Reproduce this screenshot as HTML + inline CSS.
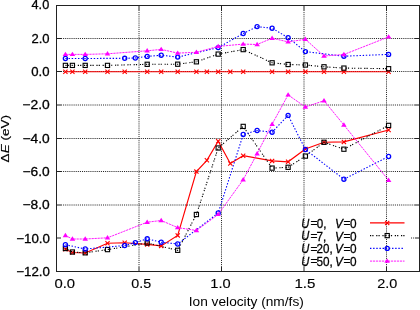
<!DOCTYPE html>
<html><head><meta charset="utf-8"><style>html,body{margin:0;padding:0;background:#fff;overflow:hidden}svg{display:block;will-change:transform}</style></head>
<body><svg width="420" height="310" viewBox="0 0 420 310"><rect width="420" height="310" fill="#fff"/><g stroke="#000" stroke-width="1" stroke-dasharray="1.05 1.05" opacity="0.85"><line x1="61" y1="38.50" x2="415" y2="38.50"/><line x1="61" y1="71.50" x2="415" y2="71.50"/><line x1="61" y1="105.00" x2="415" y2="105.00"/><line x1="61" y1="138.50" x2="415" y2="138.50"/><line x1="61" y1="171.50" x2="415" y2="171.50"/><line x1="61" y1="205.00" x2="415" y2="205.00"/><line x1="411" y1="238" x2="415" y2="238"/><line x1="139.00" y1="10" x2="139.00" y2="267"/><line x1="221.50" y1="10" x2="221.50" y2="267"/><line x1="304.00" y1="10" x2="304.00" y2="267"/><line x1="386.50" y1="10" x2="386.50" y2="267"/></g><g stroke="#222" stroke-width="1"><line x1="56" y1="38.50" x2="61" y2="38.50"/><line x1="415" y1="38.50" x2="419" y2="38.50"/><line x1="56" y1="71.50" x2="61" y2="71.50"/><line x1="415" y1="71.50" x2="419" y2="71.50"/><line x1="56" y1="105.00" x2="61" y2="105.00"/><line x1="415" y1="105.00" x2="419" y2="105.00"/><line x1="56" y1="138.50" x2="61" y2="138.50"/><line x1="415" y1="138.50" x2="419" y2="138.50"/><line x1="56" y1="171.50" x2="61" y2="171.50"/><line x1="415" y1="171.50" x2="419" y2="171.50"/><line x1="56" y1="205.00" x2="61" y2="205.00"/><line x1="415" y1="205.00" x2="419" y2="205.00"/><line x1="56" y1="238.00" x2="61" y2="238.00"/><line x1="415" y1="238.00" x2="419" y2="238.00"/><line x1="139.00" y1="271" x2="139.00" y2="267"/><line x1="139.00" y1="5" x2="139.00" y2="10"/><line x1="221.50" y1="271" x2="221.50" y2="267"/><line x1="221.50" y1="5" x2="221.50" y2="10"/><line x1="304.00" y1="271" x2="304.00" y2="267"/><line x1="304.00" y1="5" x2="304.00" y2="10"/><line x1="386.50" y1="271" x2="386.50" y2="267"/><line x1="386.50" y1="5" x2="386.50" y2="10"/></g><polyline points="65.4,71.7 72.4,71.7 85.2,71.7 107.5,71.7 124.7,71.7 147.2,71.7 161.2,71.7 177.7,71.7 196.4,71.7 206.9,71.7 218.2,71.7 230.3,71.7 243.2,71.7 272.1,71.7 288.1,71.7 305.4,71.7 324.0,71.7 343.9,71.7 388.6,71.7" fill="none" stroke="#ff0000" stroke-width="1.15"/><path d="M63.3,69.6L67.5,73.8M63.3,73.8L67.5,69.6" stroke="#ff0000" stroke-width="1.1" fill="none"/><path d="M70.3,69.6L74.5,73.8M70.3,73.8L74.5,69.6" stroke="#ff0000" stroke-width="1.1" fill="none"/><path d="M83.1,69.6L87.3,73.8M83.1,73.8L87.3,69.6" stroke="#ff0000" stroke-width="1.1" fill="none"/><path d="M105.4,69.6L109.6,73.8M105.4,73.8L109.6,69.6" stroke="#ff0000" stroke-width="1.1" fill="none"/><path d="M122.6,69.6L126.8,73.8M122.6,73.8L126.8,69.6" stroke="#ff0000" stroke-width="1.1" fill="none"/><path d="M145.1,69.6L149.3,73.8M145.1,73.8L149.3,69.6" stroke="#ff0000" stroke-width="1.1" fill="none"/><path d="M159.1,69.6L163.3,73.8M159.1,73.8L163.3,69.6" stroke="#ff0000" stroke-width="1.1" fill="none"/><path d="M175.6,69.6L179.8,73.8M175.6,73.8L179.8,69.6" stroke="#ff0000" stroke-width="1.1" fill="none"/><path d="M194.3,69.6L198.5,73.8M194.3,73.8L198.5,69.6" stroke="#ff0000" stroke-width="1.1" fill="none"/><path d="M204.8,69.6L209.0,73.8M204.8,73.8L209.0,69.6" stroke="#ff0000" stroke-width="1.1" fill="none"/><path d="M216.1,69.6L220.3,73.8M216.1,73.8L220.3,69.6" stroke="#ff0000" stroke-width="1.1" fill="none"/><path d="M228.2,69.6L232.4,73.8M228.2,73.8L232.4,69.6" stroke="#ff0000" stroke-width="1.1" fill="none"/><path d="M241.1,69.6L245.3,73.8M241.1,73.8L245.3,69.6" stroke="#ff0000" stroke-width="1.1" fill="none"/><path d="M270.0,69.6L274.2,73.8M270.0,73.8L274.2,69.6" stroke="#ff0000" stroke-width="1.1" fill="none"/><path d="M286.0,69.6L290.2,73.8M286.0,73.8L290.2,69.6" stroke="#ff0000" stroke-width="1.1" fill="none"/><path d="M303.3,69.6L307.5,73.8M303.3,73.8L307.5,69.6" stroke="#ff0000" stroke-width="1.1" fill="none"/><path d="M321.9,69.6L326.1,73.8M321.9,73.8L326.1,69.6" stroke="#ff0000" stroke-width="1.1" fill="none"/><path d="M341.8,69.6L346.0,73.8M341.8,73.8L346.0,69.6" stroke="#ff0000" stroke-width="1.1" fill="none"/><path d="M386.5,69.6L390.7,73.8M386.5,73.8L390.7,69.6" stroke="#ff0000" stroke-width="1.1" fill="none"/><polyline points="65.4,249.3 72.4,252.5 85.2,253.0 107.5,243.2 124.7,242.8 147.2,244.4 161.2,245.9 177.7,235.4 196.4,171.6 206.9,160.3 218.2,141.2 230.3,163.5 243.2,155.7 272.1,160.9 288.1,161.8 305.4,149.0 324.0,142.2 343.9,141.9 388.6,130.0" fill="none" stroke="#ff0000" stroke-width="1.15"/><path d="M63.3,247.2L67.5,251.4M63.3,251.4L67.5,247.2" stroke="#ff0000" stroke-width="1.1" fill="none"/><path d="M70.3,250.4L74.5,254.6M70.3,254.6L74.5,250.4" stroke="#ff0000" stroke-width="1.1" fill="none"/><path d="M83.1,250.9L87.3,255.1M83.1,255.1L87.3,250.9" stroke="#ff0000" stroke-width="1.1" fill="none"/><path d="M105.4,241.1L109.6,245.3M105.4,245.3L109.6,241.1" stroke="#ff0000" stroke-width="1.1" fill="none"/><path d="M122.6,240.7L126.8,244.9M122.6,244.9L126.8,240.7" stroke="#ff0000" stroke-width="1.1" fill="none"/><path d="M145.1,242.3L149.3,246.5M145.1,246.5L149.3,242.3" stroke="#ff0000" stroke-width="1.1" fill="none"/><path d="M159.1,243.8L163.3,248.0M159.1,248.0L163.3,243.8" stroke="#ff0000" stroke-width="1.1" fill="none"/><path d="M175.6,233.3L179.8,237.5M175.6,237.5L179.8,233.3" stroke="#ff0000" stroke-width="1.1" fill="none"/><path d="M194.3,169.5L198.5,173.7M194.3,173.7L198.5,169.5" stroke="#ff0000" stroke-width="1.1" fill="none"/><path d="M204.8,158.2L209.0,162.4M204.8,162.4L209.0,158.2" stroke="#ff0000" stroke-width="1.1" fill="none"/><path d="M216.1,139.1L220.3,143.3M216.1,143.3L220.3,139.1" stroke="#ff0000" stroke-width="1.1" fill="none"/><path d="M228.2,161.4L232.4,165.6M228.2,165.6L232.4,161.4" stroke="#ff0000" stroke-width="1.1" fill="none"/><path d="M241.1,153.6L245.3,157.8M241.1,157.8L245.3,153.6" stroke="#ff0000" stroke-width="1.1" fill="none"/><path d="M270.0,158.8L274.2,163.0M270.0,163.0L274.2,158.8" stroke="#ff0000" stroke-width="1.1" fill="none"/><path d="M286.0,159.7L290.2,163.9M286.0,163.9L290.2,159.7" stroke="#ff0000" stroke-width="1.1" fill="none"/><path d="M303.3,146.9L307.5,151.1M303.3,151.1L307.5,146.9" stroke="#ff0000" stroke-width="1.1" fill="none"/><path d="M321.9,140.1L326.1,144.3M321.9,144.3L326.1,140.1" stroke="#ff0000" stroke-width="1.1" fill="none"/><path d="M341.8,139.8L346.0,144.0M341.8,144.0L346.0,139.8" stroke="#ff0000" stroke-width="1.1" fill="none"/><path d="M386.5,127.9L390.7,132.1M386.5,132.1L390.7,127.9" stroke="#ff0000" stroke-width="1.1" fill="none"/><polyline points="65.4,65.4 72.4,65.4 85.2,65.4 107.5,65.4 147.2,64.3 177.7,64.2 196.4,61.8 218.2,54.1 243.2,49.6 272.1,62.8 288.1,64.5 305.4,65.0 324.0,66.8 343.9,68.1 388.6,68.7" fill="none" stroke="#000000" stroke-width="1.1" stroke-dasharray="1.2 1.1 1.2 2.7"/><rect x="63.3" y="63.3" width="4.2" height="4.2" stroke="#000000" stroke-width="1.1" fill="none"/><rect x="70.3" y="63.3" width="4.2" height="4.2" stroke="#000000" stroke-width="1.1" fill="none"/><rect x="83.1" y="63.3" width="4.2" height="4.2" stroke="#000000" stroke-width="1.1" fill="none"/><rect x="105.4" y="63.3" width="4.2" height="4.2" stroke="#000000" stroke-width="1.1" fill="none"/><rect x="145.1" y="62.2" width="4.2" height="4.2" stroke="#000000" stroke-width="1.1" fill="none"/><rect x="175.6" y="62.1" width="4.2" height="4.2" stroke="#000000" stroke-width="1.1" fill="none"/><rect x="194.3" y="59.7" width="4.2" height="4.2" stroke="#000000" stroke-width="1.1" fill="none"/><rect x="216.1" y="52.0" width="4.2" height="4.2" stroke="#000000" stroke-width="1.1" fill="none"/><rect x="241.1" y="47.5" width="4.2" height="4.2" stroke="#000000" stroke-width="1.1" fill="none"/><rect x="270.0" y="60.7" width="4.2" height="4.2" stroke="#000000" stroke-width="1.1" fill="none"/><rect x="286.0" y="62.4" width="4.2" height="4.2" stroke="#000000" stroke-width="1.1" fill="none"/><rect x="303.3" y="62.9" width="4.2" height="4.2" stroke="#000000" stroke-width="1.1" fill="none"/><rect x="321.9" y="64.7" width="4.2" height="4.2" stroke="#000000" stroke-width="1.1" fill="none"/><rect x="341.8" y="66.0" width="4.2" height="4.2" stroke="#000000" stroke-width="1.1" fill="none"/><rect x="386.5" y="66.6" width="4.2" height="4.2" stroke="#000000" stroke-width="1.1" fill="none"/><polyline points="65.4,248.5 72.4,252.0 85.2,252.8 107.5,249.6 147.2,243.0 177.7,250.3 196.4,214.5 218.2,148.0 243.2,126.4 272.1,168.1 288.1,167.3 305.4,156.1 324.0,142.3 343.9,149.2 388.6,125.4" fill="none" stroke="#000000" stroke-width="1.1" stroke-dasharray="1.2 1.1 1.2 2.7"/><rect x="63.3" y="246.4" width="4.2" height="4.2" stroke="#000000" stroke-width="1.1" fill="none"/><rect x="70.3" y="249.9" width="4.2" height="4.2" stroke="#000000" stroke-width="1.1" fill="none"/><rect x="83.1" y="250.7" width="4.2" height="4.2" stroke="#000000" stroke-width="1.1" fill="none"/><rect x="105.4" y="247.5" width="4.2" height="4.2" stroke="#000000" stroke-width="1.1" fill="none"/><rect x="145.1" y="240.9" width="4.2" height="4.2" stroke="#000000" stroke-width="1.1" fill="none"/><rect x="175.6" y="248.2" width="4.2" height="4.2" stroke="#000000" stroke-width="1.1" fill="none"/><rect x="194.3" y="212.4" width="4.2" height="4.2" stroke="#000000" stroke-width="1.1" fill="none"/><rect x="216.1" y="145.9" width="4.2" height="4.2" stroke="#000000" stroke-width="1.1" fill="none"/><rect x="241.1" y="124.3" width="4.2" height="4.2" stroke="#000000" stroke-width="1.1" fill="none"/><rect x="270.0" y="166.0" width="4.2" height="4.2" stroke="#000000" stroke-width="1.1" fill="none"/><rect x="286.0" y="165.2" width="4.2" height="4.2" stroke="#000000" stroke-width="1.1" fill="none"/><rect x="303.3" y="154.0" width="4.2" height="4.2" stroke="#000000" stroke-width="1.1" fill="none"/><rect x="321.9" y="140.2" width="4.2" height="4.2" stroke="#000000" stroke-width="1.1" fill="none"/><rect x="341.8" y="147.1" width="4.2" height="4.2" stroke="#000000" stroke-width="1.1" fill="none"/><rect x="386.5" y="123.3" width="4.2" height="4.2" stroke="#000000" stroke-width="1.1" fill="none"/><polyline points="65.4,58.5 85.2,58.5 124.7,58.3 135.3,58.0 147.2,56.4 161.2,55.2 177.7,57.1 218.2,47.6 243.2,33.5 257.1,26.6 272.1,28.2 288.1,37.7 305.4,51.6 343.9,56.2 388.6,54.4" fill="none" stroke="#0000ff" stroke-width="1.1" stroke-dasharray="1.4 1.75"/><circle cx="65.4" cy="58.5" r="2.05" stroke="#0000ff" stroke-width="1.3" fill="none"/><circle cx="85.2" cy="58.5" r="2.05" stroke="#0000ff" stroke-width="1.3" fill="none"/><circle cx="124.7" cy="58.3" r="2.05" stroke="#0000ff" stroke-width="1.3" fill="none"/><circle cx="135.3" cy="58.0" r="2.05" stroke="#0000ff" stroke-width="1.3" fill="none"/><circle cx="147.2" cy="56.4" r="2.05" stroke="#0000ff" stroke-width="1.3" fill="none"/><circle cx="161.2" cy="55.2" r="2.05" stroke="#0000ff" stroke-width="1.3" fill="none"/><circle cx="177.7" cy="57.1" r="2.05" stroke="#0000ff" stroke-width="1.3" fill="none"/><circle cx="218.2" cy="47.6" r="2.05" stroke="#0000ff" stroke-width="1.3" fill="none"/><circle cx="243.2" cy="33.5" r="2.05" stroke="#0000ff" stroke-width="1.3" fill="none"/><circle cx="257.1" cy="26.6" r="2.05" stroke="#0000ff" stroke-width="1.3" fill="none"/><circle cx="272.1" cy="28.2" r="2.05" stroke="#0000ff" stroke-width="1.3" fill="none"/><circle cx="288.1" cy="37.7" r="2.05" stroke="#0000ff" stroke-width="1.3" fill="none"/><circle cx="305.4" cy="51.6" r="2.05" stroke="#0000ff" stroke-width="1.3" fill="none"/><circle cx="343.9" cy="56.2" r="2.05" stroke="#0000ff" stroke-width="1.3" fill="none"/><circle cx="388.6" cy="54.4" r="2.05" stroke="#0000ff" stroke-width="1.3" fill="none"/><polyline points="65.4,244.7 85.2,249.0 124.7,245.5 135.3,242.6 147.2,238.8 161.2,242.2 177.7,244.0 218.2,213.0 243.2,134.5 257.1,130.5 272.1,132.2 288.1,115.4 305.4,149.5 343.9,179.2 388.6,156.5" fill="none" stroke="#0000ff" stroke-width="1.1" stroke-dasharray="1.4 1.75"/><circle cx="65.4" cy="244.7" r="2.05" stroke="#0000ff" stroke-width="1.3" fill="none"/><circle cx="85.2" cy="249.0" r="2.05" stroke="#0000ff" stroke-width="1.3" fill="none"/><circle cx="124.7" cy="245.5" r="2.05" stroke="#0000ff" stroke-width="1.3" fill="none"/><circle cx="135.3" cy="242.6" r="2.05" stroke="#0000ff" stroke-width="1.3" fill="none"/><circle cx="147.2" cy="238.8" r="2.05" stroke="#0000ff" stroke-width="1.3" fill="none"/><circle cx="161.2" cy="242.2" r="2.05" stroke="#0000ff" stroke-width="1.3" fill="none"/><circle cx="177.7" cy="244.0" r="2.05" stroke="#0000ff" stroke-width="1.3" fill="none"/><circle cx="218.2" cy="213.0" r="2.05" stroke="#0000ff" stroke-width="1.3" fill="none"/><circle cx="243.2" cy="134.5" r="2.05" stroke="#0000ff" stroke-width="1.3" fill="none"/><circle cx="257.1" cy="130.5" r="2.05" stroke="#0000ff" stroke-width="1.3" fill="none"/><circle cx="272.1" cy="132.2" r="2.05" stroke="#0000ff" stroke-width="1.3" fill="none"/><circle cx="288.1" cy="115.4" r="2.05" stroke="#0000ff" stroke-width="1.3" fill="none"/><circle cx="305.4" cy="149.5" r="2.05" stroke="#0000ff" stroke-width="1.3" fill="none"/><circle cx="343.9" cy="179.2" r="2.05" stroke="#0000ff" stroke-width="1.3" fill="none"/><circle cx="388.6" cy="156.5" r="2.05" stroke="#0000ff" stroke-width="1.3" fill="none"/><polyline points="65.4,54.4 72.4,54.4 85.2,54.4 107.5,53.8 147.2,50.8 161.2,49.4 177.7,53.1 196.4,52.3 218.2,46.4 243.2,44.1 257.1,44.5 272.1,38.2 288.1,41.9 305.4,39.3 324.0,56.0 343.9,54.5 388.6,36.9" fill="none" stroke="#ff00ff" stroke-width="0.9" stroke-dasharray="2.2 0.8"/><path d="M65.4,51.7L68.2,56.1L62.7,56.1Z" fill="#ff00ff"/><path d="M72.4,51.7L75.2,56.1L69.7,56.1Z" fill="#ff00ff"/><path d="M85.2,51.7L88.0,56.1L82.5,56.1Z" fill="#ff00ff"/><path d="M107.5,51.1L110.2,55.5L104.8,55.5Z" fill="#ff00ff"/><path d="M147.2,48.1L149.9,52.5L144.4,52.5Z" fill="#ff00ff"/><path d="M161.2,46.7L163.9,51.1L158.4,51.1Z" fill="#ff00ff"/><path d="M177.7,50.4L180.4,54.8L174.9,54.8Z" fill="#ff00ff"/><path d="M196.4,49.6L199.2,54.0L193.7,54.0Z" fill="#ff00ff"/><path d="M218.2,43.7L220.9,48.1L215.4,48.1Z" fill="#ff00ff"/><path d="M243.2,41.4L245.9,45.8L240.4,45.8Z" fill="#ff00ff"/><path d="M257.1,41.8L259.9,46.2L254.4,46.2Z" fill="#ff00ff"/><path d="M272.1,35.5L274.9,39.9L269.4,39.9Z" fill="#ff00ff"/><path d="M288.1,39.2L290.9,43.6L285.4,43.6Z" fill="#ff00ff"/><path d="M305.4,36.6L308.1,41.0L302.6,41.0Z" fill="#ff00ff"/><path d="M324.0,53.3L326.8,57.7L321.2,57.7Z" fill="#ff00ff"/><path d="M343.9,51.8L346.6,56.2L341.1,56.2Z" fill="#ff00ff"/><path d="M388.6,34.2L391.4,38.6L385.9,38.6Z" fill="#ff00ff"/><polyline points="65.4,235.5 72.4,239.0 85.2,239.0 107.5,237.8 147.2,222.2 161.2,220.5 177.7,227.6 196.4,230.5 218.2,214.4 243.2,179.7 257.1,153.7 272.1,124.2 288.1,94.9 305.4,107.0 324.0,100.7 343.9,125.0 388.6,180.3" fill="none" stroke="#ff00ff" stroke-width="0.9" stroke-dasharray="2.2 0.8"/><path d="M65.4,232.8L68.2,237.2L62.7,237.2Z" fill="#ff00ff"/><path d="M72.4,236.3L75.2,240.7L69.7,240.7Z" fill="#ff00ff"/><path d="M85.2,236.3L88.0,240.7L82.5,240.7Z" fill="#ff00ff"/><path d="M107.5,235.1L110.2,239.5L104.8,239.5Z" fill="#ff00ff"/><path d="M147.2,219.5L149.9,223.9L144.4,223.9Z" fill="#ff00ff"/><path d="M161.2,217.8L163.9,222.2L158.4,222.2Z" fill="#ff00ff"/><path d="M177.7,224.9L180.4,229.3L174.9,229.3Z" fill="#ff00ff"/><path d="M196.4,227.8L199.2,232.2L193.7,232.2Z" fill="#ff00ff"/><path d="M218.2,211.7L220.9,216.1L215.4,216.1Z" fill="#ff00ff"/><path d="M243.2,177.0L245.9,181.4L240.4,181.4Z" fill="#ff00ff"/><path d="M257.1,151.0L259.9,155.4L254.4,155.4Z" fill="#ff00ff"/><path d="M272.1,121.5L274.9,125.9L269.4,125.9Z" fill="#ff00ff"/><path d="M288.1,92.2L290.9,96.6L285.4,96.6Z" fill="#ff00ff"/><path d="M305.4,104.3L308.1,108.7L302.6,108.7Z" fill="#ff00ff"/><path d="M324.0,98.0L326.8,102.4L321.2,102.4Z" fill="#ff00ff"/><path d="M343.9,122.3L346.6,126.7L341.1,126.7Z" fill="#ff00ff"/><path d="M388.6,177.6L391.4,182.0L385.9,182.0Z" fill="#ff00ff"/><rect x="56.5" y="5.5" width="363" height="266" fill="none" stroke="#222" stroke-width="1"/><line x1="370" y1="222.9" x2="404.5" y2="222.9" stroke="#ff0000" stroke-width="1.3"/><path d="M385.1,220.8L389.3,225.0M385.1,225.0L389.3,220.8" stroke="#ff0000" stroke-width="1.1" fill="none"/><line x1="370" y1="235.6" x2="404.5" y2="235.6" stroke="#000000" stroke-width="1.1" stroke-dasharray="1.2 1.1 1.2 2.7"/><rect x="385.1" y="233.5" width="4.2" height="4.2" stroke="#000000" stroke-width="1.1" fill="none"/><line x1="370" y1="248.4" x2="404.5" y2="248.4" stroke="#0000ff" stroke-width="1.1" stroke-dasharray="1.4 1.75"/><circle cx="387.2" cy="248.4" r="2.05" stroke="#0000ff" stroke-width="1.3" fill="none"/><line x1="370" y1="261.1" x2="404.5" y2="261.1" stroke="#ff00ff" stroke-width="0.9" stroke-dasharray="2.2 0.8"/><path d="M387.2,258.4L389.9,262.8L384.4,262.8Z" fill="#ff00ff"/><g font-family="Liberation Sans, sans-serif" stroke="#000" fill="#000"><text x="100" y="100" font-size="13" stroke-width="0.3" transform="matrix(0.9771,0,0,0.9789,-66.159,-88.539)">4.0</text><text x="100" y="100" font-size="13" stroke-width="0.3" transform="matrix(1.0029,0,0,0.9158,-68.891,-48.808)">2.0</text><text x="100" y="100" font-size="13" stroke-width="0.3" transform="matrix(1.0114,0,0,0.9263,-69.896,-16.663)">0.0</text><text x="100" y="100" font-size="13" stroke-width="0.3" transform="matrix(1.0667,0,0,0.9368,-84.300,15.582)">−2.0</text><text x="100" y="100" font-size="13" stroke-width="0.3" transform="matrix(1.0586,0,0,0.9684,-83.388,45.716)">−4.0</text><text x="100" y="100" font-size="13" stroke-width="0.3" transform="matrix(1.0586,0,0,0.9684,-83.388,78.916)">−6.0</text><text x="100" y="100" font-size="13" stroke-width="0.3" transform="matrix(1.0586,0,0,0.9684,-83.388,112.216)">−8.0</text><text x="100" y="100" font-size="13" stroke-width="0.3" transform="matrix(1.0250,0,0,0.9684,-86.212,145.716)">−10.0</text><text x="100" y="100" font-size="13" stroke-width="0.3" transform="matrix(1.0250,0,0,0.9684,-86.212,178.716)">−12.0</text><text x="100" y="100" font-size="13" stroke-width="0.12" transform="matrix(1.1412,0,0,0.9895,-59.688,189.405)">0.0</text><text x="100" y="100" font-size="13" stroke-width="0.12" transform="matrix(1.1000,0,0,0.9895,21.250,189.405)">0.5</text><text x="100" y="100" font-size="13" stroke-width="0.12" transform="matrix(1.1273,0,0,0.9895,97.545,189.405)">1.0</text><text x="100" y="100" font-size="13" stroke-width="0.12" transform="matrix(1.1636,0,0,1.0162,178.073,186.724)">1.5</text><text x="100" y="100" font-size="13" stroke-width="0.12" transform="matrix(1.1118,0,0,0.9895,266.068,189.405)">2.0</text><text x="100" y="100" font-size="12.5" stroke-width="0" transform="matrix(1.0988,0,0,0.9565,78.848,210.757)">Ion velocity (nm/fs)</text><text x="100" y="100" font-size="12.5" stroke-width="0.15" transform="translate(0.6,162.1) rotate(-90) matrix(1.0830,0,0,0.8917,-108.575,-80.919)">Δ<tspan font-style="italic">E</tspan> (eV)</text><text x="100" y="100" font-size="13" font-style="italic" stroke-width="0.3" transform="matrix(0.8571,0,0,0.9514,215.643,132.627)">U</text><text x="100" y="100" font-size="13" stroke-width="0.4" transform="matrix(0.9185,0,0,0.8222,218.589,145.022)">=</text><text x="100" y="100" font-size="13" stroke-width="0.3" transform="matrix(0.8947,0,0,0.9636,227.303,131.750)">0,</text><text x="100" y="100" font-size="13" font-style="italic" stroke-width="0.3" transform="matrix(0.9143,0,0,0.9778,243.557,130.222)">V</text><text x="100" y="100" font-size="13" stroke-width="0.4" transform="matrix(0.9185,0,0,0.8222,251.689,145.022)">=</text><text x="100" y="100" font-size="13" stroke-width="0.3" transform="matrix(0.9077,0,0,0.9474,259.304,133.126)">0</text><text x="100" y="100" font-size="13" font-style="italic" stroke-width="0.3" transform="matrix(0.8571,0,0,0.9514,215.643,145.327)">U</text><text x="100" y="100" font-size="13" stroke-width="0.4" transform="matrix(0.9185,0,0,0.8222,218.589,157.722)">=</text><text x="100" y="100" font-size="13" stroke-width="0.3" transform="matrix(0.8973,0,0,0.9860,226.822,142.170)">7,</text><text x="100" y="100" font-size="13" font-style="italic" stroke-width="0.3" transform="matrix(0.9143,0,0,0.9778,243.557,142.922)">V</text><text x="100" y="100" font-size="13" stroke-width="0.4" transform="matrix(0.9185,0,0,0.8222,251.689,157.722)">=</text><text x="100" y="100" font-size="13" stroke-width="0.3" transform="matrix(0.9077,0,0,0.9474,259.304,145.826)">0</text><text x="100" y="100" font-size="13" font-style="italic" stroke-width="0.3" transform="matrix(0.8571,0,0,0.9514,215.643,158.027)">U</text><text x="100" y="100" font-size="13" stroke-width="0.4" transform="matrix(0.9185,0,0,0.8222,218.589,170.422)">=</text><text x="100" y="100" font-size="13" stroke-width="0.3" transform="matrix(0.8909,0,0,0.9636,227.464,157.150)">20,</text><text x="100" y="100" font-size="13" font-style="italic" stroke-width="0.3" transform="matrix(0.9143,0,0,0.9778,243.557,155.622)">V</text><text x="100" y="100" font-size="13" stroke-width="0.4" transform="matrix(0.9185,0,0,0.8222,251.689,170.422)">=</text><text x="100" y="100" font-size="13" stroke-width="0.3" transform="matrix(0.9077,0,0,0.9474,259.304,158.526)">0</text><text x="100" y="100" font-size="13" font-style="italic" stroke-width="0.3" transform="matrix(0.8571,0,0,0.9514,215.643,170.727)">U</text><text x="100" y="100" font-size="13" stroke-width="0.4" transform="matrix(0.9185,0,0,0.8222,218.589,183.122)">=</text><text x="100" y="100" font-size="13" stroke-width="0.3" transform="matrix(0.9030,0,0,0.9636,226.245,169.850)">50,</text><text x="100" y="100" font-size="13" font-style="italic" stroke-width="0.3" transform="matrix(0.9143,0,0,0.9778,243.557,168.322)">V</text><text x="100" y="100" font-size="13" stroke-width="0.4" transform="matrix(0.9185,0,0,0.8222,251.689,183.122)">=</text><text x="100" y="100" font-size="13" stroke-width="0.3" transform="matrix(0.9077,0,0,0.9474,259.304,171.226)">0</text></g></svg></body></html>
